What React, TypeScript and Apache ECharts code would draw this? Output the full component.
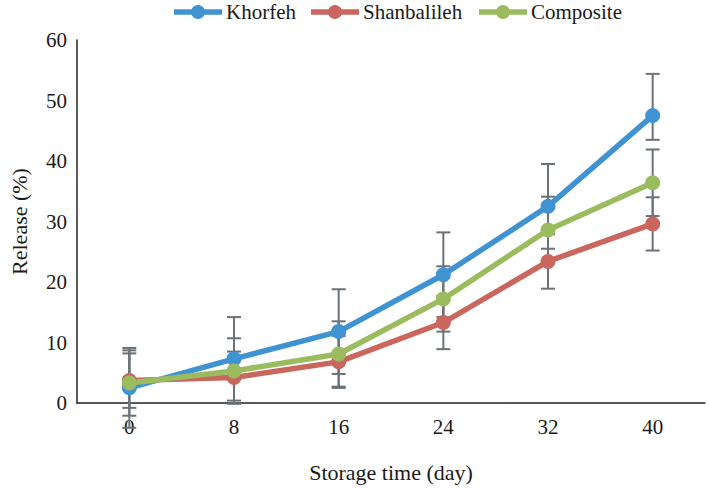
import React, { useEffect, useRef } from "react";
import * as echarts from "echarts";

const categories = ["0", "8", "16", "24", "32", "40"];
const khorfeh = [2.5, 7.3, 11.8, 21.2, 32.5, 47.5];
const khorfehErrPlus = [6.6, 6.9, 7.0, 7.0, 7.0, 6.9];
const khorfehErrMinus = [6.6, 6.9, 7.0, 7.0, 7.0, 4.0];
const shanbalileh = [3.7, 4.2, 6.8, 13.3, 23.4, 29.6];
const shanbalilehErr = [4.5, 4.3, 4.3, 4.4, 4.5, 4.4];
const composite = [3.3, 5.3, 8.1, 17.2, 28.6, 36.4];
const compositeErr = [5.4, 5.4, 5.4, 5.4, 5.5, 5.5];
const seriesNames = ["Khorfeh", "Shanbalileh", "Composite"];
const seriesColors = ["#3f93d3", "#c9675f", "#9bbc5e"];

const FONT = "Liberation Serif";
const ERR_COLOR = "#6b7176";
const LEGEND_X = [174, 311, 479];
const LEGEND_Y = 12;

function errData(vals: number[], plus: number[], minus: number[]) {
  return vals.map((v, i) => [i, v - minus[i], v + plus[i]]);
}

function errSeries(data: number[][]) {
  return {
    type: "custom",
    silent: true,
    clip: false,
    z: 1,
    encode: { x: 0, y: [1, 2] },
    data,
    renderItem: (params: any, api: any) => {
      const x = api.value(0);
      const lo = api.coord([x, api.value(1)]);
      const hi = api.coord([x, api.value(2)]);
      const hw = 7;
      const style = { stroke: ERR_COLOR, lineWidth: 2 };
      return {
        type: "group",
        children: [
          { type: "line", shape: { x1: hi[0], y1: hi[1], x2: lo[0], y2: lo[1] }, style },
          { type: "line", shape: { x1: hi[0] - hw, y1: hi[1], x2: hi[0] + hw, y2: hi[1] }, style },
          { type: "line", shape: { x1: lo[0] - hw, y1: lo[1], x2: lo[0] + hw, y2: lo[1] }, style },
        ],
      };
    },
  };
}

function lineSeries(name: string, data: number[], color: string) {
  return {
    name,
    type: "line",
    data,
    z: 3,
    symbol: "circle",
    symbolSize: 15,
    lineStyle: { width: 5.5, color },
    itemStyle: { color },
    color,
  };
}

function legendGraphic() {
  const els: any[] = [];
  seriesNames.forEach((name, i) => {
    const x = LEGEND_X[i];
    const c = seriesColors[i];
    els.push({
      type: "line",
      shape: { x1: x, y1: LEGEND_Y, x2: x + 48, y2: LEGEND_Y },
      style: { stroke: c, lineWidth: 5.5 },
    });
    els.push({
      type: "circle",
      shape: { cx: x + 24, cy: LEGEND_Y, r: 7 },
      style: { fill: c },
    });
    els.push({
      type: "text",
      x: x + 52,
      y: LEGEND_Y,
      style: {
        text: name,
        fontFamily: FONT,
        fontSize: 21,
        fill: "#1a1a1a",
        verticalAlign: "middle",
        align: "left",
      },
    });
  });
  return els;
}

export default function App() {
  const ref = useRef<HTMLDivElement>(null);
  useEffect(() => {
    if (!ref.current) return;
    const chart = echarts.init(ref.current, undefined, { renderer: "svg" });
    chart.setOption({
      animation: false,
      textStyle: { fontFamily: FONT },
      graphic: legendGraphic(),
      grid: { left: 68, right: 4, top: 40, bottom: 79, containLabel: false },
      xAxis: {
        type: "category",
        data: categories,
        boundaryGap: true,
        name: "Storage time (day)",
        nameLocation: "middle",
        nameGap: 58,
        nameTextStyle: { fontFamily: FONT, fontSize: 22, color: "#1a1a1a" },
        axisLine: { lineStyle: { color: "#222", width: 1.5 } },
        axisTick: { show: false },
        axisLabel: { fontFamily: FONT, fontSize: 21, color: "#1a1a1a", margin: 13 },
      },
      yAxis: {
        type: "value",
        min: 0,
        max: 60,
        interval: 10,
        name: "Release (%)",
        nameLocation: "middle",
        nameGap: 47,
        nameTextStyle: { fontFamily: FONT, fontSize: 22, color: "#1a1a1a" },
        axisLine: { show: true, lineStyle: { color: "#222", width: 1.5 } },
        axisTick: { show: false },
        splitLine: { show: false },
        axisLabel: { fontFamily: FONT, fontSize: 21, color: "#1a1a1a", margin: 10 },
      },
      series: [
        errSeries(errData(khorfeh, khorfehErrPlus, khorfehErrMinus)),
        errSeries(errData(shanbalileh, shanbalilehErr, shanbalilehErr)),
        errSeries(errData(composite, compositeErr, compositeErr)),
        lineSeries(seriesNames[0], khorfeh, seriesColors[0]),
        lineSeries(seriesNames[1], shanbalileh, seriesColors[1]),
        lineSeries(seriesNames[2], composite, seriesColors[2]),
      ],
    });
    return () => chart.dispose();
  }, []);
  return <div ref={ref} style={{ width: 709, height: 488, position: "absolute", left: 0, top: 0 }} />;
}
